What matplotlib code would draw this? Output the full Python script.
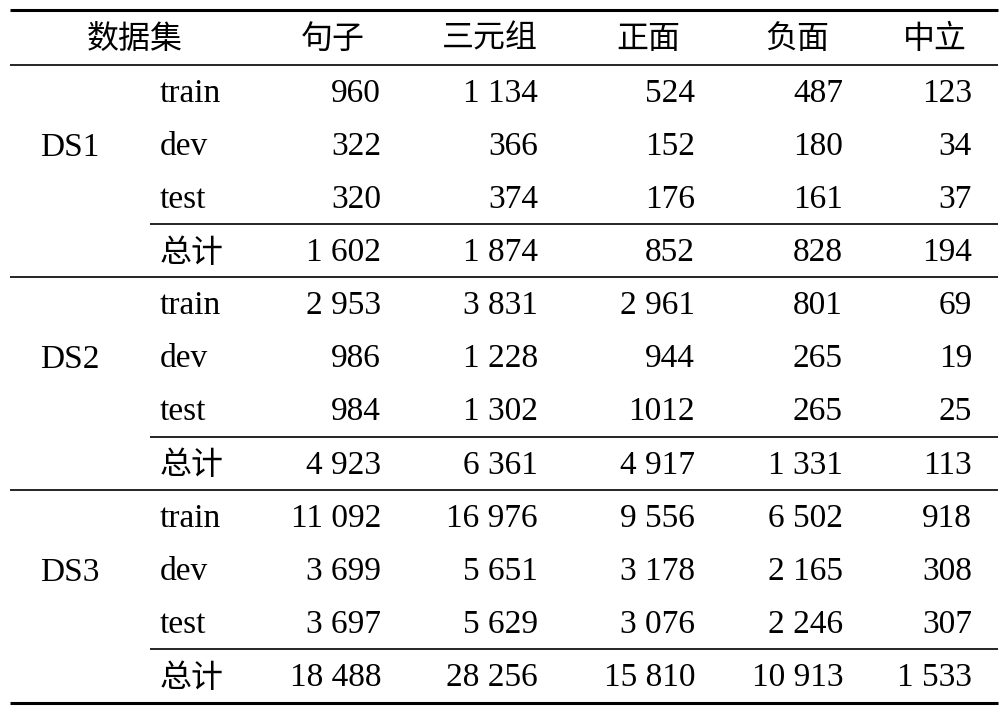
import matplotlib
matplotlib.use("Agg")
import matplotlib.pyplot as plt

headers = ["数据集", "句子", "三元组", "正面", "负面", "中立"]
datasets = ["DS1", "DS2", "DS3"]
splits = ["train", "dev", "test", "总计"]
sentences = [[960, 322, 320, 1602], [2953, 986, 984, 4923], [11092, 3699, 3697, 18488]]
triples = [[1134, 366, 374, 1874], [3831, 1228, 1302, 6361], [16976, 5651, 5629, 28256]]
positive = [[524, 152, 176, 852], [2961, 944, 1012, 4917], [9556, 3178, 3076, 15810]]
negative = [[487, 180, 161, 828], [801, 265, 265, 1331], [6502, 2165, 2246, 10913]]
neutral = [[123, 34, 37, 194], [69, 19, 25, 113], [918, 308, 307, 1533]]

def fmt(v):
    s = f"{v:,}".replace(",", " ")
    return "1012" if v == 1012 else s

fam = ["Liberation Serif", "Noto Sans CJK SC", "DejaVu Sans"]
cfam = ["Noto Sans CJK SC", "DejaVu Sans"]
fs = 24
cfs = 23

fig = plt.figure(figsize=(10.05, 7.13), dpi=100)
ax = fig.add_axes([0, 0, 1, 1])
ax.set_xlim(0, 1005); ax.set_ylim(713, 0); ax.axis("off")

def hline(y, x0, x1, lw):
    ax.plot([x0, x1], [y, y], color="black", lw=lw, solid_capstyle="butt")

hline(10, 10, 998, 2.2)
hline(65, 10, 998, 1.2)
hline(703, 10, 998, 2.2)

hcx = [135, 333, 490, 648, 797, 935]
for h, x in zip(headers, hcx):
    ax.text(x, 39, h, ha="center", va="center", fontsize=cfs, family=cfam)

rights = [381, 538, 695, 843, 972]
cols = [sentences, triples, positive, negative, neutral]
row_h = 53.1
for d, name in enumerate(datasets):
    top = 65 + d * 4 * row_h
    ax.text(70, top + 1.5 * row_h + 3, name, ha="center", va="center", fontsize=fs, family=fam)
    for r, sp in enumerate(splits):
        yc = top + (r + 0.5) * row_h + 2
        if sp == "总计":
            ax.text(160, yc, sp, ha="left", va="center", fontsize=cfs, family=cfam)
        else:
            ax.text(160, yc, sp, ha="left", va="center", fontsize=fs, family=fam)
        for c, xr in zip(cols, rights):
            ax.text(xr, yc, fmt(c[d][r]), ha="right", va="center", fontsize=fs, family=fam)
    hline(top + 3 * row_h, 150, 998, 1.2)
    if d < 2:
        hline(top + 4 * row_h, 10, 998, 1.2)

fig.savefig("out.png", dpi=100)
